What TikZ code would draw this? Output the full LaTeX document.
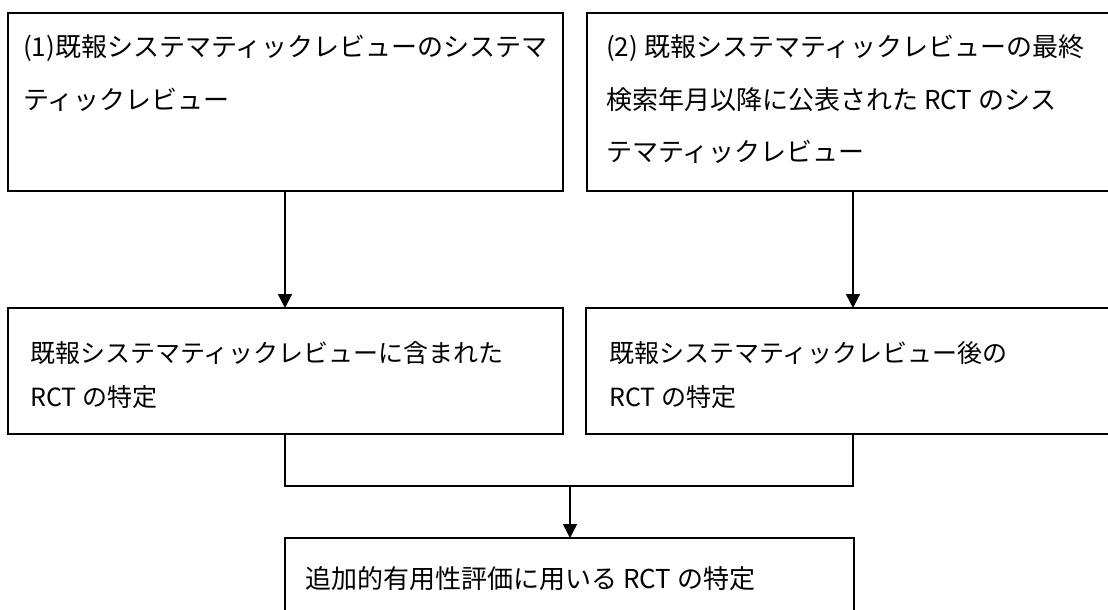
\documentclass[tikz,border=0pt]{standalone}
\usepackage{fontspec}
\setmainfont{Noto Sans CJK JP}
\usetikzlibrary{arrows.meta}
\begin{document}
\begin{tikzpicture}[x=1pt,y=-1pt,
  box/.style={draw, line width=1.6pt, anchor=north west, inner sep=0pt, outer sep=0pt},
  txt/.style={anchor=base west, inner sep=0pt, font=\fontsize{26}{30}\selectfont},
  txtb/.style={anchor=base west, inner sep=0pt, font=\fontsize{25}{30}\selectfont},
  arr/.style={line width=1.6pt, -{Triangle[length=14pt,width=14pt]}},
  conn/.style={line width=1.6pt}]
\useasboundingbox (0,0) rectangle (1108,610);
\clip (0,0) rectangle (1108,610);
% boxes
\node[box, minimum width=555pt, minimum height=178pt] (b1) at (8,13) {};
\node[box, minimum width=538pt, minimum height=178pt] (b2) at (587,13) {};
\node[box, minimum width=555pt, minimum height=126pt] (b3) at (8,308) {};
\node[box, minimum width=539pt, minimum height=126pt] (b4) at (586,308) {};
\node[box, minimum width=569pt, minimum height=112pt] (b5) at (285,538) {};
% texts
\node[txt] (t1a) at (23,57) {(1)既報システマティックレビューのシステマ};
\node[txt] (t1b) at (23,109) {ティックレビュー};
\node[txt] (t2a) at (606,57) {(2) 既報システマティックレビューの最終};
\node[txt] (t2b) at (606,109) {検索年月以降に公表された RCT のシス};
\node[txt] (t2c) at (606,161) {テマティックレビュー};
\node[txtb] (t3a) at (30,362) {既報システマティックレビューに含まれた};
\node[txtb] (t3b) at (30,406) {RCT の特定};
\node[txtb] (t4a) at (609,362) {既報システマティックレビュー後の};
\node[txtb] (t4b) at (609,406) {RCT の特定};
\node[txt] (t5a) at (305,588) {追加的有用性評価に用いる RCT の特定};
% connectors
\draw[arr] ([xshift=277pt]b1.south west) -- ([xshift=277pt]b3.north west);
\draw[arr] ([xshift=266pt]b2.south west) -- ([xshift=267pt]b4.north west);
\coordinate (j) at (570,486);
\draw[conn] ([xshift=277pt]b3.south west) |- (j) -| ([xshift=267pt]b4.south west);
\draw[arr] (j) -- (j |- b5.north);
\end{tikzpicture}
\end{document}
